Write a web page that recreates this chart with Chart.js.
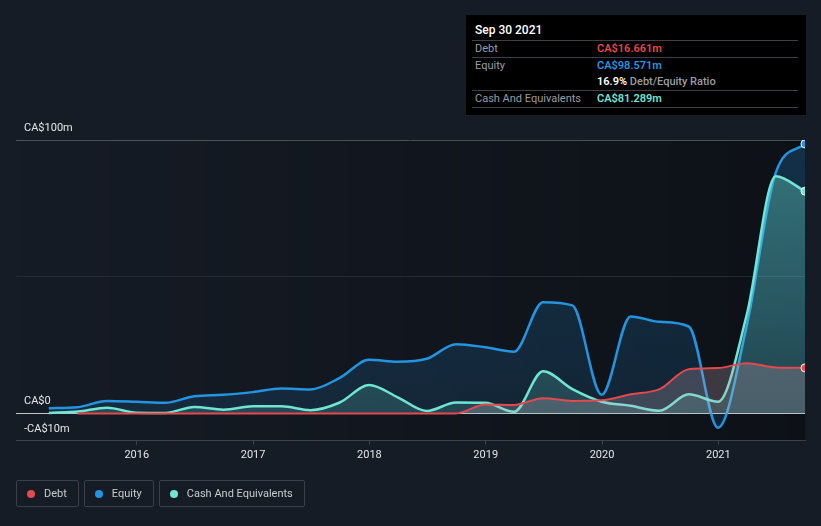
<!DOCTYPE html>
<html>
<head>
<meta charset="utf-8">
<script src="https://cdn.jsdelivr.net/npm/chart.js@4/dist/chart.umd.min.js"></script>
<style>
  html, body { margin: 0; padding: 0; background: #161c26; }
  #wrap { position: relative; width: 821px; height: 526px; font-family: Roboto, "Noto Sans", sans-serif; }
  #grafico { position: absolute; left: 0; top: 0; }
  #caja {
    position: absolute; left: 466px; top: 15px; width: 340px; height: 100px;
    background: #000; color: #fff; font-size: 11px;
  }
  #caja .fecha { position: absolute; left: 9px; top: 8px; font-size: 12px; font-weight: 500; }
  #caja .linea { position: absolute; left: 6px; width: 326px; height: 1px; background: #3d3f44; }
  #caja .etq { position: absolute; left: 9px; color: #9a9da3; }
  #caja .val { position: absolute; left: 131px; font-weight: 600; }
  #leyenda { position: absolute; left: 16px; top: 480px; display: flex; gap: 5px; }
  .item {
    height: 25px; border: 1px solid #3a3f49; border-radius: 2px; display: flex; align-items: center;
    padding: 0 11px 0 10px; color: #c9cbcf; font-size: 11px; box-sizing: content-box;
  }
  .punto { width: 8px; height: 8px; border-radius: 50%; margin-right: 9px; }
</style>
</head>
<body>
<div id="wrap">
  <canvas id="grafico" width="821" height="526"></canvas>
  <div id="caja"></div>
  <div id="leyenda"></div>
</div>
<script>
// fechas de cierre trimestral
const FECHAS = [
  '2015-03-31', '2015-06-30', '2015-09-30', '2015-12-31',
  '2016-03-31', '2016-06-30', '2016-09-30', '2016-12-31',
  '2017-03-31', '2017-06-30', '2017-09-30', '2017-12-31',
  '2018-03-31', '2018-06-30', '2018-09-30', '2018-12-31',
  '2019-03-31', '2019-06-30', '2019-09-30', '2019-12-31',
  '2020-03-31', '2020-06-30', '2020-09-30', '2020-12-31',
  '2021-03-31', '2021-06-30', '2021-09-30'
];

const DEUDA = [
  null, 0, 0, 0, 0, 0, 0, 0, 0, 0, 0, 0, 0, 0, 0,
  3.3, 3.1, 5.6, 4.6, 4.8, 7.0, 8.9, 16.2, 16.6, 18.4, 16.8, 16.661
];

const PATRIMONIO = [
  1.9, 2.3, 4.6, 4.3, 3.9, 6.3, 6.8, 7.8, 9.1, 8.8, 13.0, 19.6, 18.9, 20.0, 25.3,
  24.2, 22.6, 40.7, 39.5, 6.8, 35.5, 33.5, 31.8, -5.2, 32.0, 88.0, 98.571
];

const EFECTIVO = [
  0.2, 0.7, 2.1, 0.3, 0.2, 2.4, 1.4, 2.6, 2.6, 1.2, 4.0, 10.4, 5.9, 0.9, 4.0,
  3.9, 0.6, 15.4, 8.9, 4.3, 2.8, 1.0, 7.0, 4.3, 36.0, 86.7, 81.289
];

const NOMBRES = ['Debt', 'Equity', 'Cash And Equivalents'];
const ANIOS = [2016, 2017, 2018, 2019, 2020, 2021];
const TICKS_Y = [-10, 0, 50, 100];
const ETIQUETAS_Y = { '-10': '-CA$10m', '0': 'CA$0', '100': 'CA$100m' };

const COLORES = {
  DEUDA: '#e5484d',
  PATRIMONIO: '#2394e0',
  EFECTIVO: '#6fe6d4',
  TEXTO: '#e4e6ea'
};

function aDecimal(fecha) {
  const [a, m, d] = fecha.split('-').map(Number);
  const inicio = Date.UTC(a, 0, 1);
  const fin = Date.UTC(a + 1, 0, 1);
  return a + (Date.UTC(a, m - 1, d) - inicio) / (fin - inicio);
}

function puntos(serie) {
  return FECHAS.map((f, i) => ({ x: aDecimal(f), y: serie[i] }));
}

function degradado(ctx, arriba, abajo) {
  const area = ctx.chart.chartArea;
  if (!area) return arriba;
  const g = ctx.chart.ctx.createLinearGradient(0, area.top, 0, area.bottom);
  g.addColorStop(0, arriba);
  g.addColorStop(1, abajo);
  return g;
}

const ultimo = FECHAS.length - 1;
const radio = ctx => (ctx.dataIndex === ultimo ? 4 : 0);

function serie(nombre, datos, color, relleno, orden, ancho) {
  return {
    label: nombre,
    data: puntos(datos),
    borderColor: color,
    borderWidth: ancho,
    backgroundColor: relleno,
    fill: 'origin',
    cubicInterpolationMode: 'monotone',
    pointRadius: radio,
    pointBackgroundColor: color,
    pointBorderColor: '#ffffff',
    pointBorderWidth: 1,
    spanGaps: false,
    order: orden
  };
}

const fondoPlot = {
  id: 'fondoPlot',
  beforeDraw(chart) {
    const { ctx, chartArea: a } = chart;
    const g = ctx.createLinearGradient(a.left, 0, a.right, 0);
    g.addColorStop(0, 'rgba(0,0,0,0)');
    g.addColorStop(1, 'rgba(0,0,0,0.38)');
    ctx.save();
    ctx.fillStyle = g;
    ctx.fillRect(a.left, a.top, a.right - a.left, a.bottom - a.top);
    ctx.restore();
  }
};

const etiquetasY = {
  id: 'etiquetasY',
  afterDraw(chart) {
    const { ctx } = chart;
    const y = chart.scales.y;
    ctx.save();
    ctx.font = '11px Roboto, sans-serif';
    ctx.fillStyle = COLORES.TEXTO;
    ctx.textBaseline = 'middle';
    ctx.textAlign = 'left';
    Object.keys(ETIQUETAS_Y).forEach(v => {
      ctx.fillText(ETIQUETAS_Y[v], 24, y.getPixelForValue(Number(v)) - 12);
    });
    ctx.restore();
  }
};

new Chart(document.getElementById('grafico').getContext('2d'), {
  type: 'line',
  data: {
    datasets: [
      serie(NOMBRES[0], DEUDA, COLORES.DEUDA,
        ctx => degradado(ctx, 'rgba(229,72,77,0.35)', 'rgba(190,190,205,0.24)'), 1, 2),
      serie(NOMBRES[1], PATRIMONIO, COLORES.PATRIMONIO,
        ctx => degradado(ctx, 'rgba(35,148,224,0.24)', 'rgba(35,148,224,0.12)'), 3, 2.5),
      serie(NOMBRES[2], EFECTIVO, COLORES.EFECTIVO,
        ctx => degradado(ctx, 'rgba(111,230,212,0.38)', 'rgba(111,230,212,0.14)'), 2, 2.5)
    ]
  },
  options: {
    responsive: false,
    animation: false,
    layout: { padding: { left: 16, right: 16, top: 140, bottom: 60 } },
    plugins: { legend: { display: false }, tooltip: { enabled: false } },
    scales: {
      x: {
        type: 'linear',
        min: aDecimal('2014-12-18'),
        max: aDecimal(FECHAS[ultimo]),
        afterBuildTicks: s => { s.ticks = ANIOS.map(v => ({ value: v })); },
        ticks: {
          color: COLORES.TEXTO,
          font: { family: 'Roboto', size: 11 },
          padding: 4,
          maxRotation: 0,
          callback: v => String(v)
        },
        grid: { drawOnChartArea: false, color: '#3c414b', tickLength: 4 },
        border: { color: '#3c414b' }
      },
      y: {
        min: -10,
        max: 100,
        afterBuildTicks: s => { s.ticks = TICKS_Y.map(v => ({ value: v })); },
        afterFit: s => { s.width = 0; },
        ticks: { display: false },
        grid: {
          drawTicks: false,
          color: c => {
            const v = c.tick && c.tick.value;
            if (v === 0) return '#c4c6ca';
            if (v === 100) return '#4a4f58';
            if (v === 50) return '#252a32';
            return 'rgba(0,0,0,0)';
          }
        },
        border: { display: false }
      }
    }
  },
  plugins: [fondoPlot, etiquetasY]
});

// caja de resumen
const caja = document.getElementById('caja');
const ratio = (DEUDA[ultimo] / PATRIMONIO[ultimo] * 100).toFixed(1);
caja.innerHTML = `
  <div class="fecha">Sep 30 2021</div>
  <div class="linea" style="top:25px"></div>
  <div class="etq" style="top:27px">${NOMBRES[0]}</div>
  <div class="val" style="top:27px;color:${COLORES.DEUDA}">CA$${DEUDA[ultimo].toFixed(3)}m</div>
  <div class="linea" style="top:42px"></div>
  <div class="etq" style="top:44px">${NOMBRES[1]}</div>
  <div class="val" style="top:44px;color:${COLORES.PATRIMONIO}">CA$${PATRIMONIO[ultimo].toFixed(3)}m</div>
  <div class="val" style="top:60px;color:#fff">${ratio}% <span style="color:#9a9da3;font-weight:500">Debt/Equity Ratio</span></div>
  <div class="linea" style="top:75px"></div>
  <div class="etq" style="top:77px">${NOMBRES[2]}</div>
  <div class="val" style="top:77px;color:${COLORES.EFECTIVO}">CA$${EFECTIVO[ultimo].toFixed(3)}m</div>
  <div class="linea" style="top:92px"></div>
`;

// leyenda
const leyenda = document.getElementById('leyenda');
[COLORES.DEUDA, COLORES.PATRIMONIO, COLORES.EFECTIVO].forEach((c, i) => {
  const el = document.createElement('div');
  el.className = 'item';
  el.innerHTML = `<span class="punto" style="background:${c}"></span>${NOMBRES[i]}`;
  leyenda.appendChild(el);
});
</script>
</body>
</html>
